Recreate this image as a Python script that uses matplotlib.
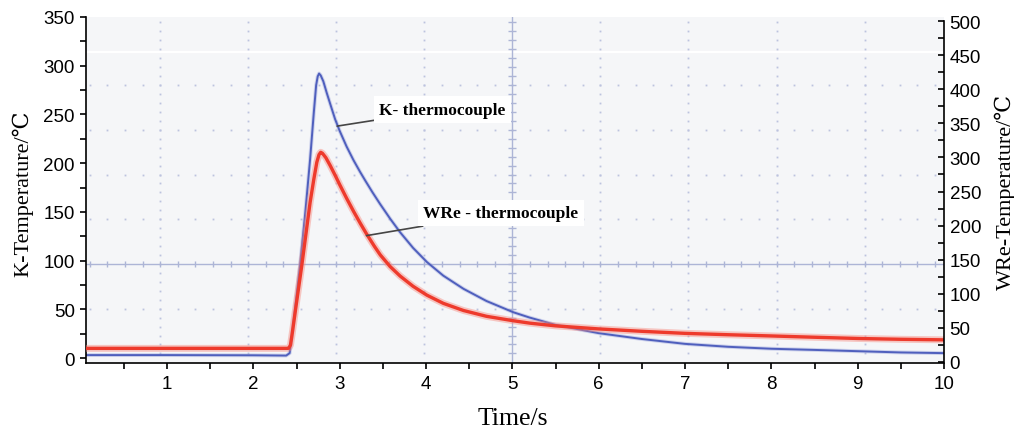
import matplotlib
matplotlib.use("Agg")
import matplotlib.pyplot as plt
import numpy as np

# ---------------- data ----------------
k_time = [0.06, 1.0, 2.0, 2.38, 2.42, 2.46, 2.54, 2.60, 2.657, 2.70, 2.727, 2.745,
          2.761, 2.78, 2.81, 2.85, 2.90, 2.947, 3.0, 3.08, 3.16, 3.236, 3.3,
          3.38, 3.468, 3.584, 3.7, 3.85, 4.01, 4.2, 4.434, 4.7, 5.01, 5.2, 5.5,
          6.0, 6.5, 7.0, 7.5, 8.0, 8.5, 9.0, 9.5, 10.0]
k_temp = [3, 3, 2.8, 2.5, 5, 33, 95, 148, 204, 252, 280, 289,
          292, 290, 284, 272, 258, 245, 233, 217, 203, 191, 181.5,
          170, 158, 143, 129, 113, 98.5, 84.5, 71, 58.5, 47, 41.5, 34,
          25.5, 19.5, 14.5, 11.5, 9.5, 8.3, 7, 5.7, 5]

wre_time = [0.06, 1.0, 2.0, 2.40, 2.41, 2.43, 2.45, 2.484, 2.56, 2.657, 2.70,
            2.735, 2.76, 2.78, 2.80, 2.84, 2.89, 2.95, 3.0, 3.08, 3.16, 3.24,
            3.31, 3.4, 3.47, 3.584, 3.7, 3.85, 4.01, 4.2, 4.434, 4.7, 5.01,
            5.2, 5.5, 6.0, 6.5, 7.0, 7.5, 8.0, 8.5, 9.0, 9.5, 10.0]
wre_temp = [20, 20, 20, 20, 20.3, 25, 42, 73, 141, 234, 268,
            293, 304, 307.5, 306, 299.5, 288, 273, 260, 240, 221, 203,
            188, 170, 157, 140, 126, 111, 98, 86, 75.5, 67, 60.5,
            57, 53, 48.5, 45, 42, 40, 38.2, 36.3, 34.5, 33.3, 32.5]

left_ticks = [0, 50, 100, 150, 200, 250, 300, 350]
right_ticks = [0, 50, 100, 150, 200, 250, 300, 350, 400, 450, 500]
x_ticks = [1, 2, 3, 4, 5, 6, 7, 8, 9, 10]

label_k = "K- thermocouple"
label_wre = "WRe - thermocouple"
xlabel = "Time/s"
ylabel_left = "K-Temperature/\u2103"
ylabel_right = "WRe-Temperature/\u2103"

# ---------------- style ----------------
plt.rcParams["font.family"] = ["Liberation Sans", "DejaVu Sans"]
W, H = 1014, 431
fig = plt.figure(figsize=(W / 100, H / 100), dpi=100)
ax_l, ax_r, ax_t, ax_b = 86, 944, 18, 364
ax = fig.add_axes([ax_l / W, 1 - ax_b / H, (ax_r - ax_l) / W, (ax_b - ax_t) / H])
ax.set_xlim(0.061, 10)
ax.set_ylim(-5.13, 350)
ax.set_facecolor("#f5f6f8")

serif = ["Liberation Serif", "DejaVu Serif", "DejaVu Sans"]

# oscilloscope graticule
cross_x, cross_y = 5.0, 96.5
div_x, div_y = 1.02, 45.9
grid_col = "#bcc3df"
ax.axhline(314, color="white", lw=1.6, zorder=0.5)
hx = np.arange(cross_x - 25 * div_x / 5, 10.01, div_x / 5)
hx = hx[(hx > 0.1) & (hx < 9.98)]
vy = np.arange(cross_y - 10 * div_y / 5, 345, div_y / 5)
vy = vy[(vy > 0) & (vy < 345)]
for k in [-1, 1, 2, 3, 4]:
    yg = cross_y + k * div_y
    ax.plot(hx, np.full_like(hx, yg), ls="none", marker="s", ms=1.3,
            color=grid_col, mew=0, zorder=0.6)
for k in [-4, -3, -2, -1, 1, 2, 3, 4]:
    xg = cross_x + k * div_x
    ax.plot(np.full_like(vy, xg), vy, ls="none", marker="s", ms=1.3,
            color=grid_col, mew=0, zorder=0.6)
cross_col = "#adb5d6"
ax.axhline(cross_y, color=cross_col, lw=1.0, zorder=0.7)
ax.axvline(cross_x, color=cross_col, lw=1.0, zorder=0.7)
ax.plot(hx, np.full_like(hx, cross_y), ls="none", marker="|", ms=5,
        color=cross_col, mew=1.0, zorder=0.7)
vy2 = np.arange(cross_y - 10 * div_y / 5, 350, div_y / 5)
vy2 = vy2[(vy2 > 0) & (vy2 < 348)]
ax.plot(np.full_like(vy2, cross_x), vy2, ls="none", marker="_", ms=6,
        color=cross_col, mew=1.0, zorder=0.7)

# K curve
ax.plot(k_time, k_temp, color="#939ddb", lw=2.8, alpha=0.4, zorder=2,
        solid_joinstyle="round")
ax.plot(k_time, k_temp, color="#4f5fbd", lw=1.4, zorder=2.1,
        solid_joinstyle="round")

# right axis
ax2 = ax.twinx()
ax2.set_ylim(-1.47, 505.9)
ax2.plot(wre_time, wre_temp, color="#f58a80", lw=5.0, alpha=0.45, zorder=2,
         solid_joinstyle="round")
ax2.plot(wre_time, wre_temp, color="#ee3a2c", lw=2.4, zorder=2.1,
         solid_joinstyle="round")

# ticks & spines
for a in (ax, ax2):
    a.spines["top"].set_visible(False)
    for s in a.spines.values():
        s.set_linewidth(1.2)
ax.spines["right"].set_visible(False)
ax2.spines["left"].set_visible(False)
ax2.spines["bottom"].set_visible(False)
ax2.spines["right"].set_bounds(0, 500)

ax.set_xticks(x_ticks)
ax.set_xticks(np.arange(0.5, 10, 1.0), minor=True)
ax.set_yticks(left_ticks)
ax.set_yticks(np.arange(25, 350, 50), minor=True)
ax.spines["left"].set_bounds(-5.13, 350)
ax2.set_yticks(right_ticks)
ax2.set_yticks(np.arange(25, 500, 50), minor=True)

ax.tick_params(axis="x", which="both", direction="out", length=4, width=1.2,
               pad=5, labelsize=13.5)
ax.tick_params(axis="y", which="both", direction="out", length=4, width=1.2,
               pad=4, labelsize=13.5)
ax2.tick_params(axis="y", which="both", direction="in", length=4, width=1.2,
                pad=4, labelsize=13.5)

# labels
fig.text(513 / W, 1 - 425 / H, xlabel, ha="center", va="baseline",
         family=serif, fontsize=18.5)
fig.text(23 / W, 1 - 194 / H, ylabel_left, ha="center", va="center",
         rotation=90, family=serif, fontsize=16)
fig.text(1005 / W, 1 - 192 / H, ylabel_right, ha="center", va="center",
         rotation=90, family=serif, fontsize=16)

# annotations
ann_kw = dict(xycoords=ax.transData, textcoords=ax.transData, ha="left",
              va="center", family=serif, fontsize=12.5, fontweight="bold",
              zorder=10,
              bbox=dict(boxstyle="square,pad=0.3", fc="white", ec="none"),
              arrowprops=dict(arrowstyle="-", color="#454545", lw=1.2,
                              shrinkA=0, shrinkB=0))
ax2.annotate(label_k, xy=(2.97, 238), xytext=(3.46, 255), **ann_kw)
ax2.annotate(label_wre, xy=(3.31, 125.6), xytext=(3.97, 148.9), **ann_kw)

fig.savefig("out.png", dpi=100)
